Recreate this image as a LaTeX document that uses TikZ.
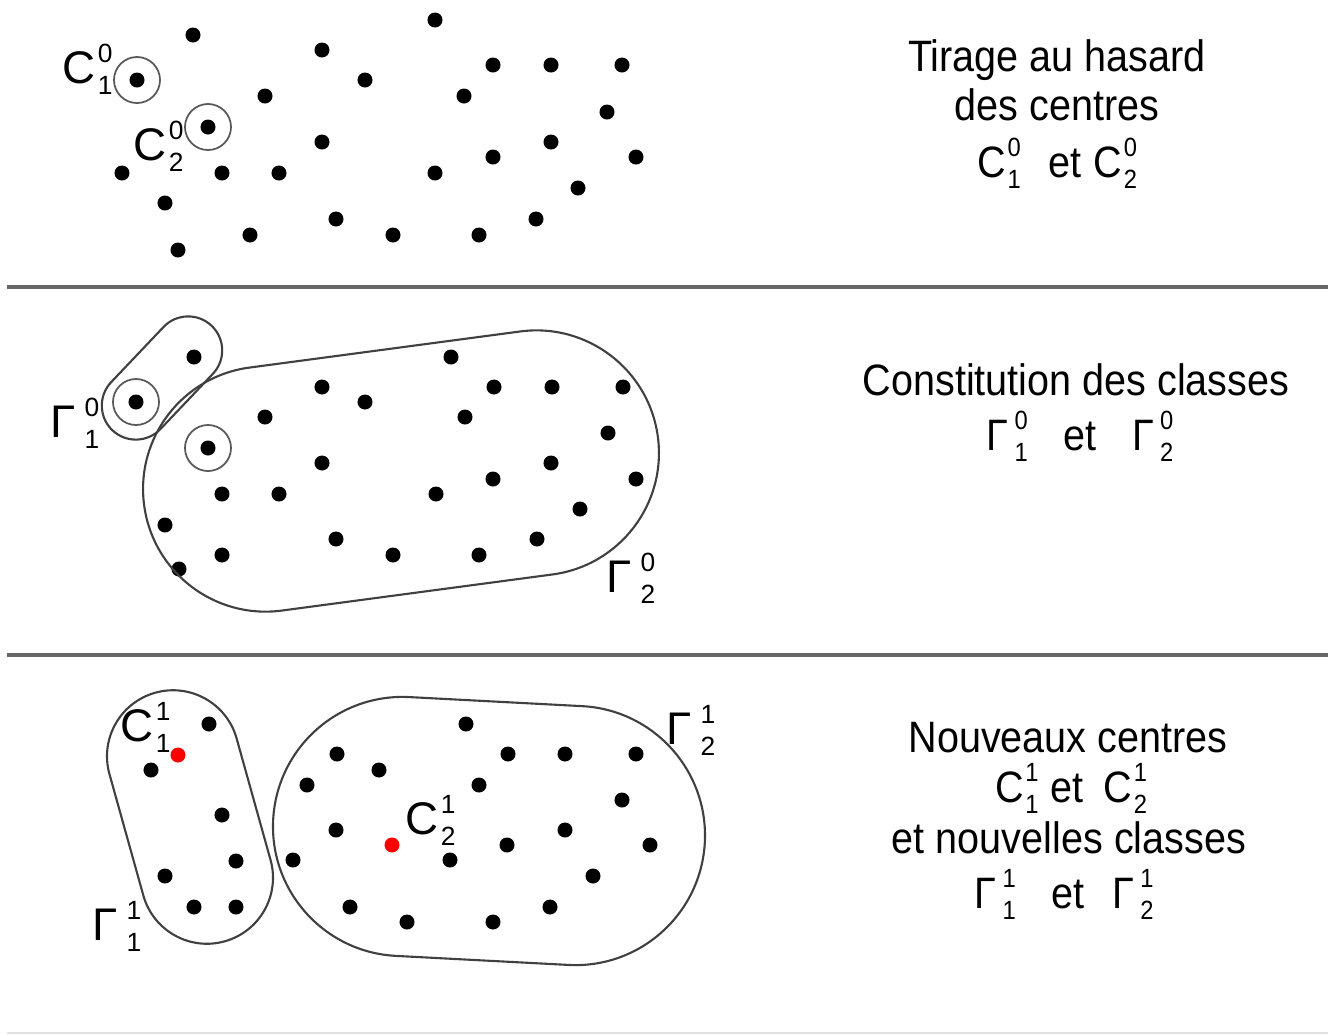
\documentclass[tikz,border=0pt]{standalone}
\usepackage{fontspec}
\setmainfont{Liberation Sans}
\usepackage{tikz}
\usetikzlibrary{shapes.misc}
\newcommand{\idxfont}{\fontsize{7.5}{8}\selectfont}
\newcommand{\lbl}[4][0.6pt]{#2\kern#1\rlap{\raisebox{5.7pt}{\idxfont #3}}\raisebox{-3.4pt}{\idxfont #4}}

\begin{document}
\begin{tikzpicture}[x=0.01cm,y=-0.01cm,
  dot/.style={circle,fill=black,inner sep=0pt,minimum size=0.15cm},
  reddot/.style={dot,fill=red},
  ring/.style={circle,draw=black!65,line width=0.5pt,inner sep=0pt,minimum size=0.46cm},
  classe/.style={rounded rectangle,draw=black!75,line width=0.6pt,inner sep=0pt},
  sep/.style={draw=black!60,line width=0.9pt},
  txt/.style={font=\fontsize{12.5}{15}\selectfont,xscale=0.9,anchor=base,inner sep=0pt},
  lab/.style={font=\fontsize{13}{15}\selectfont,anchor=base west,inner sep=0pt}]
  \useasboundingbox (0,0) rectangle (1332,1035);

  % tirage au hasard
  \foreach \x/\y [count=\i] in {193/35,435/20,322/50,365/80,265/96,493/65,551/65,622/65,
      464/96,607/112,322/142,551/142,493/157,636/157,122/173,222/173,279/173,435/173,
      578/188,165/203,336/219,536/219,250/235,393/235,479/235,178/250}
    \node[dot] (p\i) at (\x,\y) {};
  \node[dot] (c1) at (137,80) {};
  \node[dot] (c2) at (208,127) {};
  \node[ring] (r1) at (c1) {};
  \node[ring] (r2) at (c2) {};
  \node[lab] (lc1) at (62,83) {\lbl{C}{0}{1}};
  \node[lab] (lc2) at (133,160) {\lbl{C}{0}{2}};

  \node[txt] (t1) at (1057,71) {Tirage au hasard};
  \node[txt] (t2) at (1057,120) {des centres};
  \node[txt] (t3) at (1057,177) {\lbl{C}{0}{1}\hspace{0.7em}et\hspace{0.3em}\lbl{C}{0}{2}};

  \coordinate (s1l) at (7,287);
  \coordinate (s1r) at (1328,287);
  \draw[sep] (s1l) -- (s1r);

  % classes
  \foreach \x/\y [count=\i] in {194/357,451/357,322/387,494/387,552/387,623/387,365/402,
      265/417,465/417,608/433,322/463,551/463,493/479,636/479,222/494,279/494,436/494,
      580/509,165/525,336/539,537/539,222/555,393/555,479/555,179/569}
    \node[dot] (q\i) at (\x,\y) {};
  \node[dot] (d1) at (136,402) {};
  \node[dot] (d2) at (208,448) {};
  \node[ring] (s1) at (d1) {};
  \node[ring] (s2) at (d2) {};
  \node[classe,minimum width=1.44cm,minimum height=0.68cm,rotate=46.5] (g1) at (162,378) {};
  \node[classe,minimum width=5.18cm,minimum height=2.45cm,rotate=7.6] (g2) at (401,471) {};
  \node[lab] (lg1) at (50,437) {\lbl[2.5pt]{Γ}{0}{1}};
  \node[lab] (lg2) at (606,592) {\lbl[2.5pt]{Γ}{0}{2}};

  \node[txt] (u1) at (1076,395) {Constitution des classes};
  \node[txt] (u2) at (1080,450) {\lbl[2pt]{Γ}{0}{1}\hspace{0.9em}et\hspace{0.9em}\lbl[2pt]{Γ}{0}{2}};

  \coordinate (s2l) at (7,655);
  \coordinate (s2r) at (1328,655);
  \draw[sep] (s2l) -- (s2r);

  % nouvelles classes
  \foreach \x/\y [count=\i] in {209/724,151/770,222/815,236/861,165/876,194/907,236/907}
    \node[dot] (a\i) at (\x,\y) {};
  \foreach \x/\y [count=\i] in {466/724,337/754,508/754,565/754,636/754,379/770,307/785,
      479/785,622/800,336/830,565/830,507/845,650/845,293/860,450/860,593/876,350/907,
      550/907,407/922,493/922}
    \node[dot] (b\i) at (\x,\y) {};
  \node[reddot] (n1) at (178,755) {};
  \node[reddot] (n2) at (392,845) {};
  \node[classe,minimum width=2.58cm,minimum height=1.32cm,rotate=-74.4] (h1) at (190,817) {};
  \node[classe,minimum width=4.32cm,minimum height=2.59cm,rotate=-3] (h2) at (489,831) {};
  \node[lab] (ln1) at (120,741) {\lbl{C}{1}{1}};
  \node[lab] (ln2) at (405,834) {\lbl{C}{1}{2}};
  \node[lab] (lh1) at (92,940) {\lbl[2.5pt]{Γ}{1}{1}};
  \node[lab] (lh2) at (666,744) {\lbl[2.5pt]{Γ}{1}{2}};

  \node[txt] (v1) at (1068,752) {Nouveaux centres};
  \node[txt] (v2) at (1071,802) {\lbl{C}{1}{1}\hspace{0.3em}et\hspace{0.5em}\lbl{C}{1}{2}};
  \node[txt] (v3) at (1069,853) {et nouvelles classes};
  \node[txt] (v4) at (1064,908) {\lbl[2pt]{Γ}{1}{1}\hspace{0.9em}et\hspace{0.7em}\lbl[2pt]{Γ}{1}{2}};

  \coordinate (s3l) at (7,1033);
  \coordinate (s3r) at (1328,1033);
  \draw[draw=black!12,line width=0.6pt] (s3l) -- (s3r);
\end{tikzpicture}
\end{document}
